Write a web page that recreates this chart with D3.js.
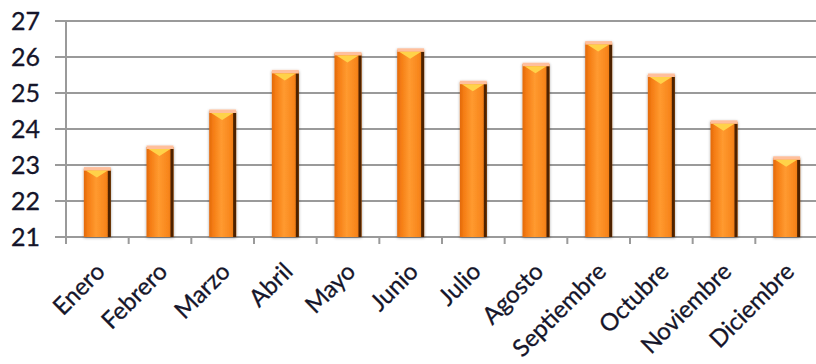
<!DOCTYPE html>
<html>
<head>
<meta charset="utf-8">
<script src="https://cdn.jsdelivr.net/npm/d3@7"></script>
<style>
  html, body { margin: 0; padding: 0; background: #fff; }
  svg { display: block; }
</style>
</head>
<body>
<div id="chart"></div>
<script>
// Monthly values
const months = ["Enero", "Febrero", "Marzo", "Abril", "Mayo", "Junio",
                "Julio", "Agosto", "Septiembre", "Octubre", "Noviembre", "Diciembre"];
const values = [22.9, 23.5, 24.5, 25.6, 26.1, 26.2, 25.3, 25.8, 26.4, 25.5, 24.2, 23.2];
const yTicks = [21, 22, 23, 24, 25, 26, 27];

const W = 816, H = 364;
const plotLeft = 66, plotRight = 818, plotTop = 21, plotBottom = 237;

const svg = d3.select("#chart").append("svg")
  .attr("width", W).attr("height", H);

const x = d3.scaleBand().domain(months).range([plotLeft, plotRight]).paddingInner(0.57).paddingOuter(0.285);
const y = d3.scaleLinear().domain([21, 27]).range([plotBottom, plotTop]);

const defs = svg.append("defs");
const grad = defs.append("linearGradient").attr("id", "barFace")
  .attr("x1", "0%").attr("x2", "100%").attr("y1", "0%").attr("y2", "0%");
grad.append("stop").attr("offset", "0%").attr("stop-color", "#e2690a");
grad.append("stop").attr("offset", "15%").attr("stop-color", "#f57d14");
grad.append("stop").attr("offset", "45%").attr("stop-color", "#ff9a30");
grad.append("stop").attr("offset", "80%").attr("stop-color", "#f8861c");
grad.append("stop").attr("offset", "100%").attr("stop-color", "#e0700e");

const shadow = defs.append("filter").attr("id", "soft")
  .attr("x", "-30%").attr("y", "-10%").attr("width", "160%").attr("height", "120%");
shadow.append("feGaussianBlur").attr("in", "SourceAlpha").attr("stdDeviation", 1.5).attr("result", "b");
shadow.append("feOffset").attr("in", "b").attr("dx", 0).attr("dy", 1).attr("result", "o");
shadow.append("feComponentTransfer").attr("in", "o").attr("result", "s")
  .append("feFuncA").attr("type", "linear").attr("slope", 0.35);
const mrg = shadow.append("feMerge");
mrg.append("feMergeNode").attr("in", "s");
mrg.append("feMergeNode").attr("in", "SourceGraphic");

// Horizontal gridlines
svg.append("g").selectAll("line").data(yTicks).join("line")
  .attr("x1", plotLeft - 11).attr("x2", W)
  .attr("y1", d => y(d)).attr("y2", d => y(d))
  .attr("stroke", "#9a9a9a").attr("stroke-width", 2);

// Vertical axis line
svg.append("line")
  .attr("x1", plotLeft).attr("x2", plotLeft)
  .attr("y1", y(27)).attr("y2", plotBottom + 7)
  .attr("stroke", "#9a9a9a").attr("stroke-width", 2);

// Category boundary ticks
const step = x.step();
const boundaries = d3.range(months.length).map(i => plotLeft + i * step);
svg.append("g").selectAll("line").data(boundaries).join("line")
  .attr("x1", d => d).attr("x2", d => d)
  .attr("y1", plotBottom).attr("y2", plotBottom + 7)
  .attr("stroke", "#9a9a9a").attr("stroke-width", 2);

// Y labels
svg.append("g").selectAll("text").data(yTicks).join("text")
  .attr("x", 40).attr("y", d => y(d))
  .attr("dy", "0.36em")
  .attr("text-anchor", "end")
  .attr("font-family", "Lato, 'Open Sans', sans-serif")
  .attr("font-size", 25)
  .attr("fill", "#15152a")
  .attr("stroke", "#15152a").attr("stroke-width", 0.3)
  .text(d => d);

// Bars
const bars = svg.append("g").selectAll("g").data(months).join("g")
  .attr("filter", "url(#soft)");
const bw = x.bandwidth();
bars.append("rect")
  .attr("x", d => x(d)).attr("y", (d, i) => y(values[i]))
  .attr("width", bw).attr("height", (d, i) => plotBottom - y(values[i]))
  .attr("fill", "url(#barFace)");
bars.append("rect")
  .attr("x", d => x(d) + bw - 3).attr("y", (d, i) => y(values[i]) + 2)
  .attr("width", 3).attr("height", (d, i) => plotBottom - y(values[i]) - 2)
  .attr("fill", "#4e2200");
bars.append("rect")
  .attr("x", d => x(d)).attr("y", (d, i) => y(values[i]) - 1.5)
  .attr("width", bw).attr("height", 3.5)
  .attr("fill", "#ffbf9c");
bars.append("path")
  .attr("d", (d, i) => {
    const x0 = x(d) + 2, x1 = x(d) + bw - 3, yt = y(values[i]) + 2;
    return `M${x0},${yt}L${x1},${yt}L${(x0 + x1) / 2},${yt + 7}Z`;
  })
  .attr("fill", "#ffd24a");

// X labels, rotated
svg.append("g").selectAll("text").data(months).join("text")
  .attr("transform", d => `translate(${x(d) + bw / 2 + 9},${plotBottom + 36}) rotate(-45)`)
  .attr("text-anchor", "end")
  .attr("font-family", "Lato, 'Open Sans', sans-serif")
  .attr("font-size", 24)
  .attr("fill", "#15152a")
  .attr("stroke", "#15152a").attr("stroke-width", 0.3)
  .text(d => d);
</script>
</body>
</html>
